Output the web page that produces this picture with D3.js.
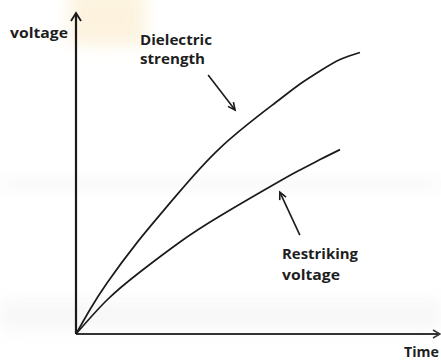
<!DOCTYPE html>
<html><head><meta charset="utf-8">
<script src="https://cdn.jsdelivr.net/npm/d3@7"></script>
<style>html,body{margin:0;padding:0;background:#fff;overflow:hidden}</style>
</head><body>
<svg id="c" width="441" height="360"></svg>
<script>
// Data (x = time, y = voltage, arbitrary units 0-100)
const dielectricX = [0, 3.85, 8.52, 16.76, 26.65, 39.56, 54.67, 61.54, 67.03, 72.53, 78.02];
const dielectricY = [0, 7.63, 15.86, 28.47, 41.93, 57.94, 71.96, 77.88, 81.93, 85.51, 87.69];
const restrikeX = [0, 8.52, 17.58, 28.57, 39.56, 56.04, 61.54, 67.03, 72.53];
const restrikeY = [0, 10.59, 19.31, 28.66, 36.76, 47.66, 51.09, 54.33, 57.44];
const axisLabels = ["voltage", "Time"];
const curveLabels = [["Dielectric", "strength"], ["Restriking", "voltage"]];

const svg = d3.select("#c");
const x = d3.scaleLinear().domain([0, 100]).range([76, 440]);
const y = d3.scaleLinear().domain([0, 100]).range([334, 13]);

// faint watermark background
const defs = svg.append("defs");
const f = defs.append("filter").attr("id","blur").attr("x","-50%").attr("y","-50%").attr("width","200%").attr("height","200%");
f.append("feGaussianBlur").attr("stdDeviation", 8);
svg.append("rect").attr("x",70).attr("y",-10).attr("width",75).attr("height",55).attr("fill","#fbe9c4").attr("opacity",0.55).attr("filter","url(#blur)");
svg.append("rect").attr("x",0).attr("y",178).attr("width",441).attr("height",12).attr("fill","#e8e8e8").attr("opacity",0.3).attr("filter","url(#blur)");
svg.append("rect").attr("x",0).attr("y",300).attr("width",441).attr("height",30).attr("fill","#e6e6e6").attr("opacity",0.3).attr("filter","url(#blur)");

const ink = "#1a1a1a";
// axes
svg.append("line").attr("x1", x(0)).attr("y1", y(0)).attr("x2", x(0)).attr("y2", y(100) + 1)
  .attr("stroke", ink).attr("stroke-width", 2.2);
svg.append("line").attr("x1", x(0)).attr("y1", y(0)).attr("x2", x(100) - 1).attr("y2", y(0))
  .attr("stroke", "#333").attr("stroke-width", 1.8);
// arrowheads on axes
svg.append("path").attr("d", `M${x(0)-5},${y(100)+8} L${x(0)},${y(100)} L${x(0)+5},${y(100)+8}`)
  .attr("fill","none").attr("stroke", ink).attr("stroke-width", 1.8);
svg.append("path").attr("d", `M${x(100)-7},${y(0)-4} L${x(100)},${y(0)} L${x(100)-7},${y(0)+4}`)
  .attr("fill","none").attr("stroke", "#333").attr("stroke-width", 1.5);

// curves
const line = d3.line().x(d => x(d[0])).y(d => y(d[1])).curve(d3.curveNatural);
svg.append("path").datum(dielectricX.map((v,i)=>[v, dielectricY[i]]))
  .attr("d", line).attr("fill","none").attr("stroke", ink).attr("stroke-width", 1.7);
svg.append("path").datum(restrikeX.map((v,i)=>[v, restrikeY[i]]))
  .attr("d", line).attr("fill","none").attr("stroke", ink).attr("stroke-width", 1.7);

// annotation arrows
function arrow(x1,y1,x2,y2){
  const X1=x(x1),Y1=y(y1),X2=x(x2),Y2=y(y2);
  svg.append("line").attr("x1",X1).attr("y1",Y1).attr("x2",X2).attr("y2",Y2).attr("stroke",ink).attr("stroke-width",1.6);
  const a=Math.atan2(Y2-Y1,X2-X1), L=8, w=0.45;
  svg.append("path").attr("d",`M${X2-L*Math.cos(a-w)},${Y2-L*Math.sin(a-w)} L${X2},${Y2} L${X2-L*Math.cos(a+w)},${Y2-L*Math.sin(a+w)}`)
    .attr("fill","none").attr("stroke",ink).attr("stroke-width",1.6);
}
arrow(36.3, 80.7, 43.7, 69.8);
arrow(61.5, 30.8, 56.0, 44.2);

// text
const font = "'Open Sans', 'Liberation Sans', sans-serif";
function txt(s, px, py, w){
  const t = svg.append("text").attr("x", px).attr("y", py).text(s)
    .attr("font-family", font).attr("font-size", 13.5).attr("font-weight", 700)
    .attr("fill", "#1e1e1e");
  if (w) t.attr("textLength", w).attr("lengthAdjust", "spacingAndGlyphs");
  return t;
}
txt(axisLabels[0], 10, 38, 58);
txt(axisLabels[1], 404, 357, 35);
txt(curveLabels[0][0], 140, 45, 72);
txt(curveLabels[0][1], 140, 64, 65);
txt(curveLabels[1][0], 282, 259, 76);
txt(curveLabels[1][1], 282, 280, 58);
</script>
</body></html>
